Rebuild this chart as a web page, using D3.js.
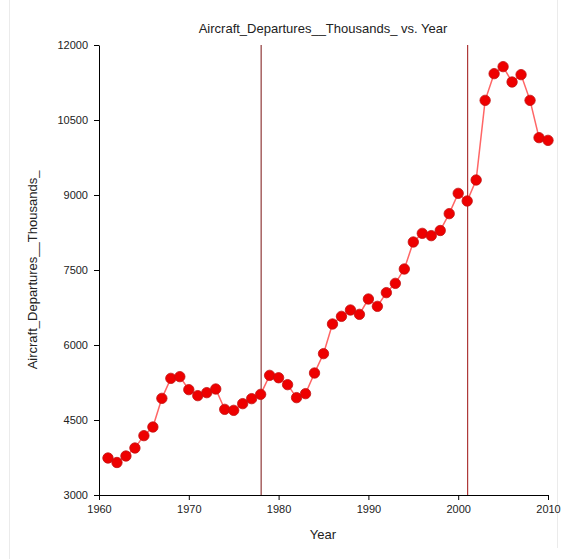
<!DOCTYPE html>
<html><head><meta charset="utf-8">
<script src="https://cdn.jsdelivr.net/npm/d3@7"></script>
<style>body{margin:0;background:#fff;}svg{display:block;font-family:"Liberation Sans",Arial,sans-serif;}</style>
</head><body>
<svg id="c" width="564" height="559"></svg>
<script>
const years = d3.range(1961, 2011);
const departures = [3740,3650,3780,3940,4187,4360,4933,5333,5367,5107,
  4987,5047,5120,4713,4693,4827,4927,5013,5393,5345,
  5207,4947,5027,5440,5827,6420,6573,6700,6613,6920,
  6773,7047,7233,7520,8060,8233,8187,8290,8627,9033,
  8880,9300,10893,11427,11567,11260,11407,10893,10147,10093];
const xTicks = [1960,1970,1980,1990,2000,2010];
const yTicks = [3000,4500,6000,7500,9000,10500,12000];
const markerYears = [1978, 2001];
const markerColors = ["#7a1212", "#9e1010"];
const title = "Aircraft_Departures__Thousands_ vs. Year";
const xLabel = "Year";
const yLabel = "Aircraft_Departures__Thousands_";

const svg = d3.select("#c");
const x = d3.scaleLinear().domain([1960,2010]).range([99,548]);
const y = d3.scaleLinear().domain([3000,12000]).range([495,45]);

// faint frame
svg.append("line").attr("x1",9.5).attr("x2",9.5).attr("y1",0).attr("y2",559).attr("stroke","#ebebeb");
svg.append("line").attr("x1",557.5).attr("x2",557.5).attr("y1",0).attr("y2",548).attr("stroke","#ebebeb");

const xa = svg.append("g").attr("transform","translate(0,495)")
  .call(d3.axisBottom(x).tickValues(xTicks).tickFormat(d3.format("d")).tickSize(5).tickSizeOuter(0));
const ya = svg.append("g").attr("transform","translate(99,0)")
  .call(d3.axisLeft(y).tickValues(yTicks).tickFormat(d3.format("d")).tickSize(5).tickSizeOuter(0));
[xa,ya].forEach(a=>{
  a.select(".domain").attr("stroke","#000");
  a.selectAll(".tick line").attr("stroke","#000");
  a.selectAll(".tick text").attr("fill","#222").attr("font-size","11px").attr("font-family","'Liberation Sans',Arial,sans-serif");
});
xa.selectAll(".tick text").attr("dy","0.9em");
ya.selectAll(".tick text").attr("x",-11);

svg.selectAll(".vline").data(markerYears).enter().append("line")
  .attr("x1",d=>x(d)+0.5).attr("x2",d=>x(d)+0.5).attr("y1",45).attr("y2",495)
  .attr("stroke",(d,i)=>markerColors[i]).attr("stroke-width",1);

const data = years.map((yr,i)=>({yr, v:departures[i]}));
svg.append("path").datum(data)
  .attr("fill","none").attr("stroke","#ff6666").attr("stroke-width",1.5)
  .attr("d", d3.line().x(d=>x(d.yr)).y(d=>y(d.v)));
svg.selectAll(".pt").data(data).enter().append("circle")
  .attr("cx",d=>x(d.yr)).attr("cy",d=>y(d.v)).attr("r",5.2)
  .attr("fill","#ee0000").attr("stroke","#c21010").attr("stroke-width",0.8);

svg.append("text").attr("x",323).attr("y",33).attr("text-anchor","middle")
  .attr("font-size","13px").attr("fill","#222").text(title);
svg.append("text").attr("x",323).attr("y",539).attr("text-anchor","middle")
  .attr("font-size","13px").attr("fill","#222").text(xLabel);
svg.append("text").attr("transform","translate(37,270) rotate(-90)").attr("text-anchor","middle")
  .attr("font-size","13px").attr("fill","#222").text(yLabel);
</script>
</body></html>
